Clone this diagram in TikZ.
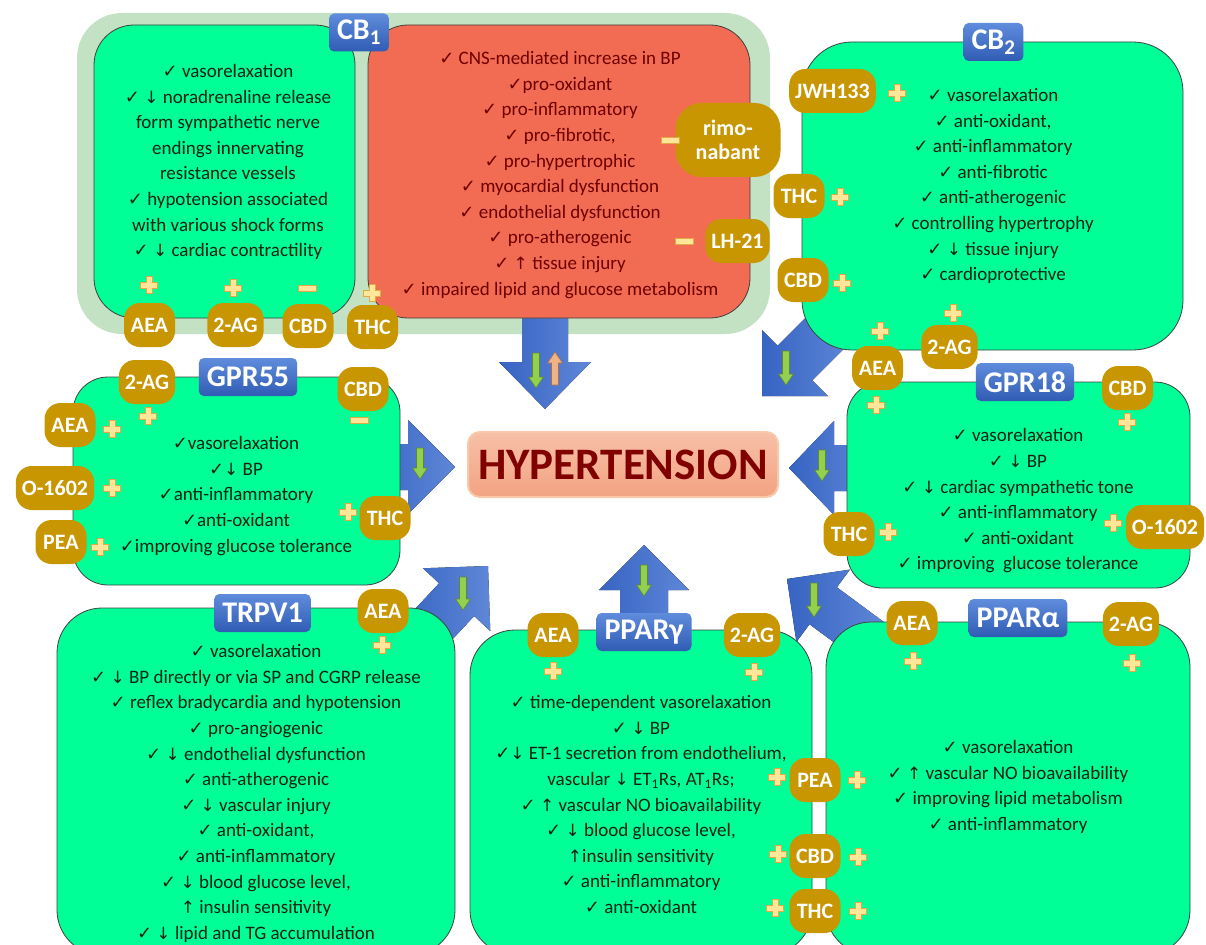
\documentclass[tikz,border=0pt]{standalone}
\usepackage{fontspec}
\setmainfont{Carlito}
\newfontfamily\symf{DejaVu Sans}
\definecolor{boxgreen}{RGB}{0,255,150}
\definecolor{boxred}{RGB}{242,108,84}
\definecolor{palegreen}{RGB}{195,225,195}
\definecolor{pillgold}{RGB}{200,150,0}
\definecolor{plusfill}{RGB}{255,230,153}
\definecolor{plusedge}{RGB}{225,170,70}
\definecolor{lblA}{RGB}{95,140,220}
\definecolor{lblB}{RGB}{48,92,180}
\definecolor{arrowA}{RGB}{55,100,195}
\definecolor{arrowB}{RGB}{95,135,215}
\definecolor{smallgreen}{RGB}{146,208,80}
\definecolor{smallorange}{RGB}{244,177,131}
\definecolor{txtg}{RGB}{15,35,20}
\definecolor{txtr}{RGB}{110,0,0}
\definecolor{hypA}{RGB}{247,192,168}
\definecolor{hypB}{RGB}{243,163,130}
\definecolor{hypedge}{RGB}{248,200,170}
\definecolor{hyptxt}{RGB}{128,0,0}
\newcommand\chk{{\symf\fontsize{18}{18}\selectfont ✓}}
\newcommand\dar{{\symf\fontsize{17}{17}\selectfont ↓}}
\newcommand\uar{{\symf\fontsize{17}{17}\selectfont ↑}}
\newcommand\fatarrow[7]{%
  \begin{scope}[shift={(#1,#2)},rotate=#3]
    \fill[left color=arrowA, right color=arrowB] (0,0) -- (-#4,#5) -- (-#4,#6) -- ({-#4-#7},#6) -- ({-#4-#7},-#6) -- (-#4,-#6) -- (-#4,-#5) -- cycle;
  \end{scope}}
\newcommand\smalldown[4]{\filldraw[fill=#4, draw=#4!65!black, line width=0.6pt] ({#1-3.5},#2) -- ({#1+3.5},#2) -- ({#1+3.5},{#3-11}) -- ({#1+7.5},{#3-11}) -- (#1,#3) -- ({#1-7.5},{#3-11}) -- ({#1-3.5},{#3-11}) -- cycle;}
\newcommand\smallup[4]{\filldraw[fill=#4, draw=#4!65!black, line width=0.6pt] (#1,#2) -- ({#1+7.5},{#2+11}) -- ({#1+3.5},{#2+11}) -- ({#1+3.5},#3) -- ({#1-3.5},#3) -- ({#1-3.5},{#2+11}) -- ({#1-7.5},{#2+11}) -- cycle;}
\tikzset{
  gbox/.style={draw=black!75, line width=0.8pt, fill=boxgreen, inner sep=0pt},
  lbl/.style={top color=lblA, bottom color=lblB, rounded corners=5pt, text=white, font=\bfseries\fontsize{30}{30}\selectfont, inner xsep=8pt, inner ysep=0pt, minimum height=38pt},
  pill/.style={fill=pillgold, rounded corners=16pt, text=white, font=\bfseries\fontsize{22}{24}\selectfont, minimum width=51pt, minimum height=44pt, inner xsep=6pt, inner ysep=0pt},
  txt/.style={align=center, inner sep=0pt, text=txtg, font=\fontsize{19}{25.6}\selectfont},
  plusmark/.pic={\filldraw[fill=plusfill, draw=plusedge, line width=0.6pt] (-8.5,-2.9) -- (-2.9,-2.9) -- (-2.9,-8.5) -- (2.9,-8.5) -- (2.9,-2.9) -- (8.5,-2.9) -- (8.5,2.9) -- (2.9,2.9) -- (2.9,8.5) -- (-2.9,8.5) -- (-2.9,2.9) -- (-8.5,2.9) -- cycle;},
  minusmark/.pic={\filldraw[fill=plusfill, draw=plusedge, line width=0.6pt] (-9,-2.9) rectangle (9,2.9);}
}
\begin{document}
\begin{tikzpicture}[x=1pt,y=-1pt]
\useasboundingbox (0,0) rectangle (1206,944);
\clip (0,0) rectangle (1206,944);

% big arrows behind boxes
\fatarrow{762}{396}{-135}{46.5}{46.5}{24.5}{60}
\fatarrow{488}{566}{47}{46}{46}{24}{60}
\fatarrow{787}{579}{143.5}{45}{45}{23}{60}
\fatarrow{455}{467}{0}{47}{47}{23}{40}
\fatarrow{789}{468}{180}{45}{47}{23}{40}
\fatarrow{644}{545}{90}{45}{45}{24}{50}

% CB1 group
\node[fill=palegreen, rounded corners=45pt, minimum width=693pt, minimum height=321pt, inner sep=0pt] (cb1out) at (423.5,173.5) {};
\fatarrow{545}{409}{-90}{47}{46}{23}{60}
\node[gbox, rounded corners=40pt, minimum width=261pt, minimum height=293pt] (cb1l) at (224.5,171.5) {};
\node[gbox, fill=boxred, rounded corners=40pt, minimum width=382pt, minimum height=293pt] (cb1r) at (559,171.5) {};

% other boxes
\node[gbox, rounded corners=50pt, minimum width=381pt, minimum height=308pt] (cb2) at (992.5,196) {};
\node[gbox, rounded corners=35pt, minimum width=327pt, minimum height=208pt] (gpr55) at (236.5,481) {};
\node[gbox, rounded corners=35pt, minimum width=343pt, minimum height=206pt] (gpr18) at (1018.5,485) {};
\node[gbox, rounded corners=45pt, minimum width=398pt, minimum height=347pt] (trpv1) at (256,781.5) {};
\node[gbox, rounded corners=45pt, minimum width=342pt, minimum height=325pt] (pparg) at (641,792.5) {};
\node[gbox, rounded corners=45pt, minimum width=364pt, minimum height=333pt] (ppara) at (1008,788.5) {};

% hypertension
\node[top color=hypA, bottom color=hypB, draw=hypedge, line width=2pt, rounded corners=12pt, minimum width=310pt, minimum height=65pt, inner sep=0pt, text=hyptxt, font=\bfseries\fontsize{45}{45}\selectfont] (hyp) at (623,464.5) {HYPERTENSION};

% small arrows
\smalldown{536}{353}{388}{smallgreen}
\smallup{555}{352}{385}{smallorange}
\smalldown{786}{351}{385}{smallgreen}
\smalldown{463}{577}{610}{smallgreen}
\smalldown{814}{583}{617}{smallgreen}
\smalldown{420}{448}{479}{smallgreen}
\smalldown{822}{450}{481}{smallgreen}
\smalldown{644}{565}{596}{smallgreen}

% texts
\node[txt] (t1) at (228,162) {\chk\ vasorelaxation\\ \chk\ \dar\ noradrenaline release\\ form sympathetic nerve\\ endings innervating\\ resistance vessels\\ \chk\ hypotension associated\\ with various shock forms\\ \chk\ \dar\ cardiac contractility};
\node[txt, text=txtr] (t2) at (560,175) {\chk\ CNS-mediated increase in BP\\ \chk pro-oxidant\\ \chk\ pro-inflammatory\\ \chk\ pro-fibrotic,\\ \chk\ pro-hypertrophic\\ \chk\ myocardial dysfunction\\ \chk\ endothelial dysfunction\\ \chk\ pro-atherogenic\\ \chk\ \uar\ tissue injury\\ \chk\ impaired lipid and glucose metabolism};
\node[txt] (t3) at (993,186) {\chk\ vasorelaxation\\ \chk\ anti-oxidant,\\ \chk\ anti-inflammatory\\ \chk\ anti-fibrotic\\ \chk\ anti-atherogenic\\ \chk\ controlling hypertrophy\\ \chk\ \dar\ tissue injury\\ \chk\ cardioprotective};
\node[txt] (t4) at (236,496) {\chk vasorelaxation\\ \chk\dar\ BP\\ \chk anti-inflammatory\\ \chk anti-oxidant\\ \chk improving glucose tolerance};
\node[txt] (t5) at (1018,501) {\chk\ vasorelaxation\\ \chk\ \dar\ BP\\ \chk\ \dar\ cardiac sympathetic tone\\ \chk\ anti-inflammatory\\ \chk\ anti-oxidant\\ \chk\ improving\ \ glucose tolerance};
\node[txt] (t6) at (256,793.5) {\chk\ vasorelaxation\\ \chk\ \dar\ BP directly or via SP and CGRP release\\ \chk\ reflex bradycardia and hypotension\\ \chk\ pro-angiogenic\\ \chk\ \dar\ endothelial dysfunction\\ \chk\ anti-atherogenic\\ \chk\ \dar\ vascular injury\\ \chk\ anti-oxidant,\\ \chk\ anti-inflammatory\\ \chk\ \dar\ blood glucose level,\\ \uar\ insulin sensitivity\\ \chk\ \dar\ lipid and TG accumulation};
\node[txt] (t7) at (641,804.5) {\chk\ time-dependent vasorelaxation\\ \chk\ \dar\ BP\\ \chk\dar\ ET-1 secretion from endothelium,\\ vascular \dar\ ET\textsubscript{1}Rs, AT\textsubscript{1}Rs;\\ \chk\ \uar\ vascular NO bioavailability\\ \chk\ \dar\ blood glucose level,\\ \uar insulin sensitivity\\ \chk\ anti-inflammatory\\ \chk\ anti-oxidant};
\node[txt] (t8) at (1008,787) {\chk\ vasorelaxation\\ \chk\ \uar\ vascular NO bioavailability\\ \chk\ improving lipid metabolism\\ \chk\ anti-inflammatory};

% labels
\node[lbl] (lcb1) at (359,32.5) {CB\textsubscript{1}};
\node[lbl] (lcb2) at (993.5,42) {CB\textsubscript{2}};
\node[lbl] (lg55) at (248,377) {GPR55};
\node[lbl] (lg18) at (1025,382) {GPR18};
\node[lbl] (ltr) at (262.5,613) {TRPV1};
\node[lbl] (lpg) at (644,632) {PPARγ};
\node[lbl] (lpa) at (1018,618) {PPARα};

% pills
\node[pill] (a1) at (149.5,325) {AEA};
\node[pill] (a2) at (235.5,325) {2-AG};
\node[pill] (a3) at (308,326) {CBD};
\node[pill] (a4) at (372.5,327) {THC};
\node[pill, align=center, rounded corners=26pt, minimum width=105pt, minimum height=74pt] (rimo) at (728,140) {rimo-\\nabant};
\node[pill] (lh) at (737.5,241) {LH-21};
\node[pill] (jwh) at (832.5,91) {JWH133};
\node[pill] (thc2) at (799,196) {THC};
\node[pill] (cbd2) at (803,280) {CBD};
\node[pill] (ag2) at (949.5,347) {2-AG};
\node[pill] (aea2) at (877.5,368) {AEA};
\node[pill] (ag3) at (147,382) {2-AG};
\node[pill] (cbd3) at (363,389) {CBD};
\node[pill] (aea3) at (70,425) {AEA};
\node[pill] (o3) at (55,488) {O-1602};
\node[pill] (pea3) at (61,542) {PEA};
\node[pill] (thc3) at (385,518) {THC};
\node[pill] (cbd4) at (1127.5,388) {CBD};
\node[pill] (thc4) at (849,534) {THC};
\node[pill] (o4) at (1165,527) {O-1602};
\node[pill] (aea5) at (383,611) {AEA};
\node[pill] (aea6) at (553,635) {AEA};
\node[pill] (ag6) at (752,635) {2-AG};
\node[pill] (pea6) at (815,780) {PEA};
\node[pill] (cbd6) at (815,856) {CBD};
\node[pill] (thc6) at (815,911) {THC};
\node[pill] (aea7) at (912,623) {AEA};
\node[pill] (ag7) at (1131,624) {2-AG};

% plus / minus marks
\pic at (149,285) {plusmark};
\pic at (233,288) {plusmark};
\pic at (307,288) {minusmark};
\pic at (372,293) {plusmark};
\pic at (670,140) {minusmark};
\pic at (684,241) {minusmark};
\pic at (897,93) {plusmark};
\pic at (840,197) {plusmark};
\pic at (842,283) {plusmark};
\pic at (953,313) {plusmark};
\pic at (880,331) {plusmark};
\pic at (876,405) {plusmark};
\pic at (1127,422) {plusmark};
\pic at (888,532) {plusmark};
\pic at (1113,523) {plusmark};
\pic at (148,416) {plusmark};
\pic at (359,420) {minusmark};
\pic at (112,429) {plusmark};
\pic at (112,488) {plusmark};
\pic at (100,547) {plusmark};
\pic at (348,512) {plusmark};
\pic at (382,645) {plusmark};
\pic at (553,671) {plusmark};
\pic at (754,672) {plusmark};
\pic at (777,777) {plusmark};
\pic at (857,780) {plusmark};
\pic at (778,854) {plusmark};
\pic at (858,857) {plusmark};
\pic at (775,908) {plusmark};
\pic at (858,911) {plusmark};
\pic at (913,661) {plusmark};
\pic at (1132,663) {plusmark};
\end{tikzpicture}
\end{document}
